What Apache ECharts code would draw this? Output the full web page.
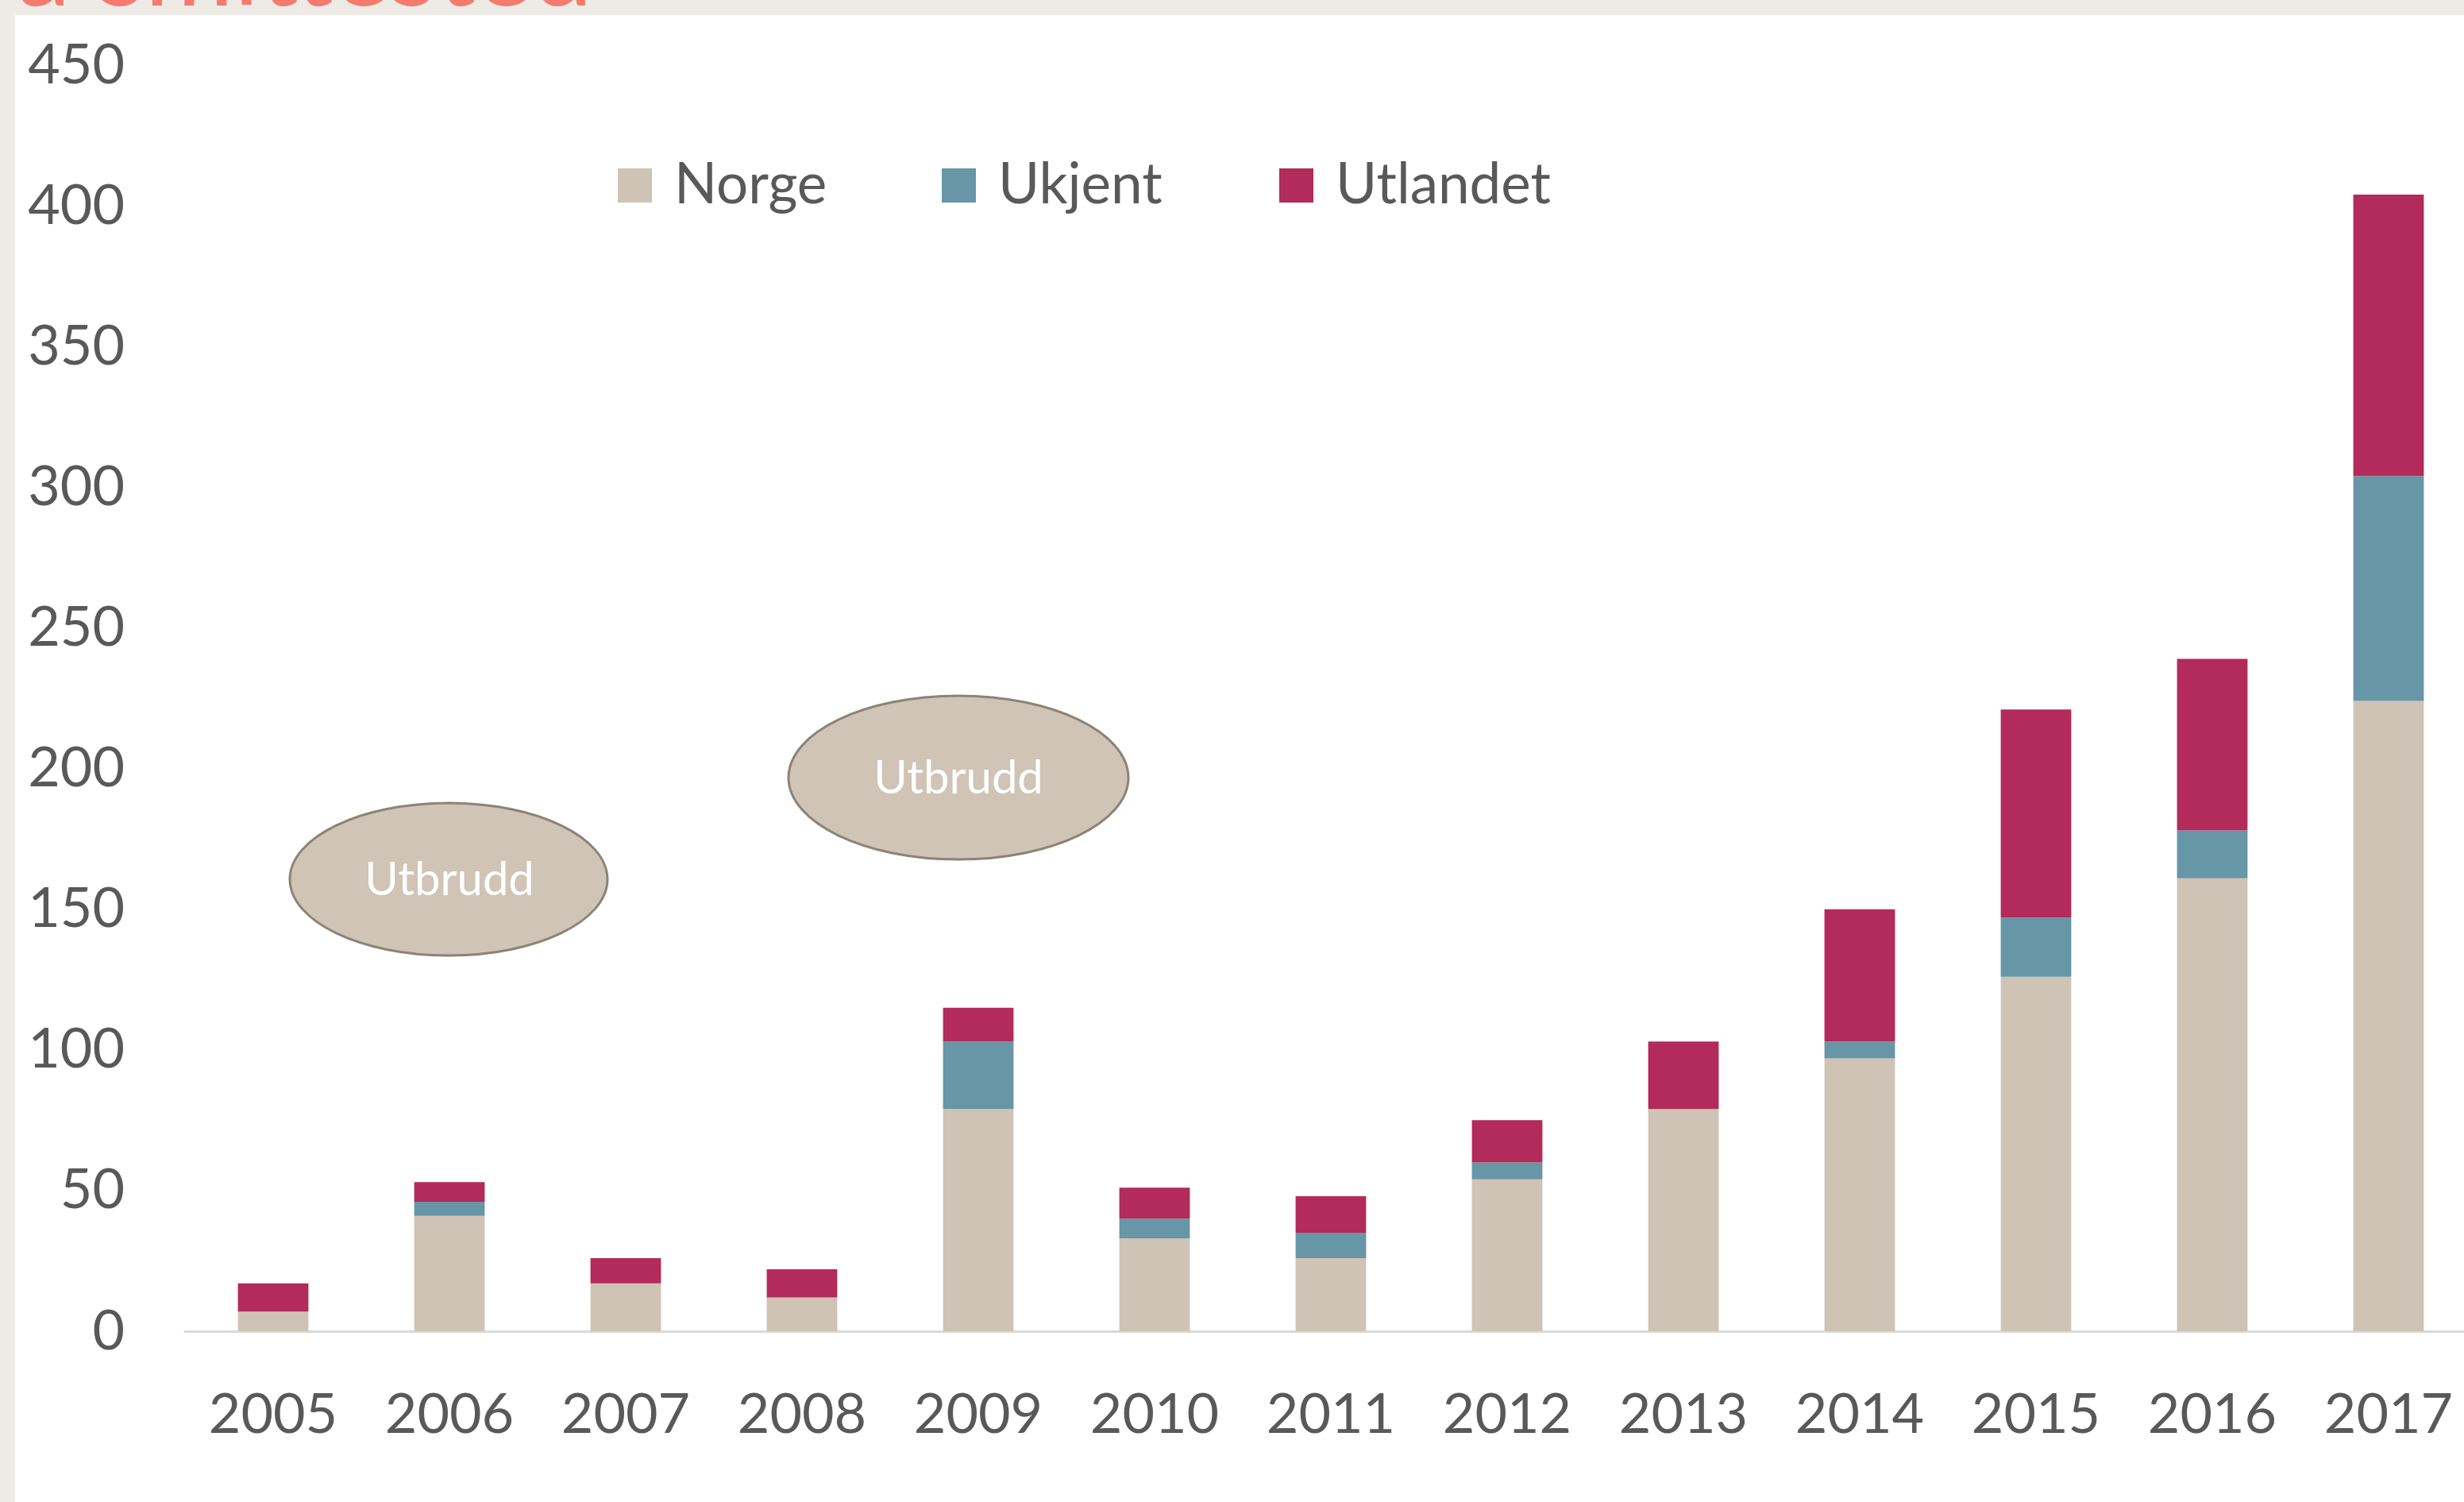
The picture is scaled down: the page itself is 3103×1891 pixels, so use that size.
<!DOCTYPE html>
<html>
<head>
<meta charset="utf-8">
<script src="https://cdn.jsdelivr.net/npm/echarts@6/dist/echarts.min.js"></script>
<style>
html,body{margin:0;padding:0;background:#EEEBE6;overflow:hidden;}
#chart{width:3120px;height:1891px;}
</style>
</head>
<body>
<div id="chart"></div>
<script>
const years = ['2005','2006','2007','2008','2009','2010','2011','2012','2013','2014','2015','2016','2017'];
const norge    = [7, 41, 17, 12, 79, 33, 26, 54, 79, 97, 126, 161, 224];
const ukjent   = [0, 5, 0, 0, 24, 7, 9, 6, 0, 6, 21, 17, 80];
const utlandet = [10, 7, 9, 10, 12, 11, 13, 15, 24, 47, 74, 61, 100];
const yTicks = [0, 50, 100, 150, 200, 250, 300, 350, 400, 450];
const seriesNames = ['Norge', 'Ukjent', 'Utlandet'];
const annotationText = 'Utbrudd';
const headerText = 'a smittested';

const colors = ['#CFC3B5', '#6796A6', '#B22B5A'];
const txt = '#595959';
const font = 'Lato';

const chart = echarts.init(document.getElementById('chart'), null, {renderer: 'canvas'});

const legendLefts = [773, 1181, 1606];
const legends = seriesNames.map((n, i) => ({
  data: [n],
  left: legendLefts[i],
  top: 193,
  padding: 5,
  itemWidth: 43,
  itemHeight: 43,
  icon: 'rect',
  selectedMode: false,
  textStyle: {fontFamily: font, fontSize: 71, color: txt, lineHeight: 70, padding: [0, 0, 0, 23]}
}));

const seriesData = [norge, ukjent, utlandet];

chart.setOption({
  backgroundColor: '#EEEBE6',
  animation: false,
  color: colors,
  legend: legends,
  grid: {left: 233, top: 82, width: 2886, bottom: 215, containLabel: false},
  xAxis: {
    type: 'category',
    data: years,
    axisLine: {show: true, lineStyle: {color: '#D9D9D9', width: 3}},
    axisTick: {show: false},
    axisLabel: {fontFamily: font, fontSize: 70, color: txt, margin: 70, interval: 0}
  },
  yAxis: {
    type: 'value',
    min: yTicks[0],
    max: yTicks[yTicks.length - 1],
    interval: yTicks[1] - yTicks[0],
    axisLine: {show: false},
    axisTick: {show: false},
    splitLine: {show: false},
    axisLabel: {fontFamily: font, fontSize: 70, color: txt, margin: 76, padding: [12, 0, 0, 0]}
  },
  graphic: [
    {type: 'rect', z: -10, shape: {x: 19, y: 19, width: 3101, height: 1872}, style: {fill: '#FFFFFF'}},
    {type: 'text', z: -5, x: 21, y: -37, style: {text: headerText, fontFamily: font, fontSize: 136, fill: '#F47B6E', verticalAlign: 'middle', align: 'left'}},
    {type: 'ellipse', z: 20, shape: {cx: 565, cy: 1107, rx: 200, ry: 96}, style: {fill: '#CFC4B6', stroke: '#8C8377', lineWidth: 3}},
    {type: 'text', z: 21, x: 566, y: 1108, style: {text: annotationText, fontFamily: font, fontSize: 58, fill: '#FFFFFF', align: 'center', verticalAlign: 'middle'}},
    {type: 'ellipse', z: 20, shape: {cx: 1207, cy: 979, rx: 214, ry: 103}, style: {fill: '#CFC4B6', stroke: '#8C8377', lineWidth: 3}},
    {type: 'text', z: 21, x: 1207, y: 980, style: {text: annotationText, fontFamily: font, fontSize: 58, fill: '#FFFFFF', align: 'center', verticalAlign: 'middle'}}
  ],
  series: seriesNames.map((n, i) => ({
    name: n,
    type: 'bar',
    stack: 'total',
    barCategoryGap: '60%',
    data: seriesData[i],
    itemStyle: {color: colors[i]}
  }))
});
</script>
</body>
</html>
